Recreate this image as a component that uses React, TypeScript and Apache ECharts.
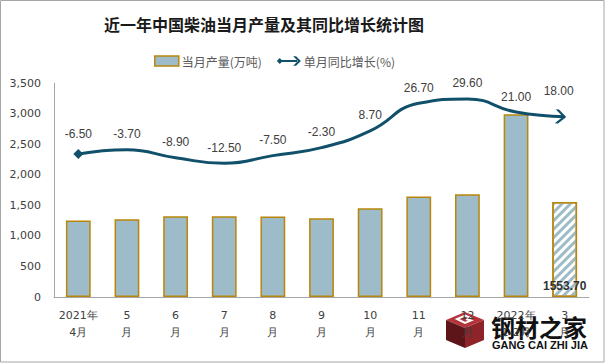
import React, { useEffect, useRef } from "react";
import * as echarts from "echarts";

const categories = ["2021年\n4月", "5\n月", "6\n月", "7\n月", "8\n月", "9\n月", "10\n月", "11\n月", "12\n月", "2022年\n1-2月", "3\n月"];
const output = [1253, 1270, 1320, 1320, 1318, 1286, 1450, 1645, 1680, 2987, 1553.7];
const growth = [-6.5, -3.7, -8.9, -12.5, -7.5, -2.3, 8.7, 26.7, 29.6, 21.0, 18.0];
const yTicks = [0, 500, 1000, 1500, 2000, 2500, 3000, 3500];

const BAR_FILL = "#9DBBC8";
const BAR_BORDER = "#B8860B";
const LINE = "#11506A";

const legendLinePath =
  "path://M0,6L3,3L6,6L3,9Z M5,5L21,5L21,7L5,7Z M17,1L20,1L25,6L20,11L17,11L22,6Z";
const arrowPath = "path://M0,0L3,0L10,6L3,12L0,12L7,6Z";

export default function App() {
  const ref = useRef<HTMLDivElement>(null);
  useEffect(() => {
    document.body.style.margin = "0";
    const chart = echarts.init(ref.current!, null, { renderer: "svg" });
    const last = output.length - 1;
    chart.setOption({
      animation: false,
      backgroundColor: "#fff",
      title: {
        text: "近一年中国柴油当月产量及其同比增长统计图",
        left: 99,
        top: 11,
        textStyle: { fontFamily: "Noto Sans CJK SC", fontWeight: "bold", fontSize: 16, color: "#1a1a1a" },
      },
      legend: {
        left: 149,
        top: 50,
        itemGap: 15,
        itemWidth: 24,
        itemHeight: 10,
        textStyle: { fontFamily: "Noto Sans CJK SC", fontSize: 12, color: "#595959", padding: [0, 0, 0, -2] },
        data: [
          { name: "当月产量(万吨)", icon: "rect", itemStyle: { color: BAR_FILL, borderColor: BAR_BORDER, borderWidth: 1.5, decal: "none" } },
          { name: "单月同比增长(%)", icon: legendLinePath, itemStyle: { color: LINE, borderWidth: 0 } },
        ],
      },
      grid: { left: 54, right: 17, top: 83, bottom: 67, containLabel: false },
      xAxis: {
        type: "category",
        data: categories,
        axisLine: { lineStyle: { color: "#A6A6A6", width: 1 } },
        axisTick: { show: false },
        axisLabel: {
          interval: 0,
          margin: 10,
          fontFamily: "DejaVu Sans",
          fontSize: 11,
          lineHeight: 17,
          color: "#404040",
        },
      },
      yAxis: [
        {
          type: "value",
          min: yTicks[0],
          max: yTicks[yTicks.length - 1],
          interval: 500,
          axisLine: { show: true, lineStyle: { color: "#A6A6A6", width: 1 } },
          axisTick: { show: false },
          splitLine: { show: false },
          axisLabel: {
            margin: 13,
            fontFamily: "DejaVu Sans",
            fontSize: 11,
            color: "#404040",
            formatter: (v: number) => v.toLocaleString("en-US"),
          },
        },
        {
          type: "value",
          min: -100,
          max: 40,
          show: false,
          splitLine: { show: false },
        },
      ],
      series: [
        {
          name: "当月产量(万吨)",
          type: "bar",
          barWidth: "51%",
          yAxisIndex: 0,
          itemStyle: { color: BAR_FILL, borderColor: BAR_BORDER, borderWidth: 1.5 },
          data: output.map((v, i) =>
            i === last
              ? {
                  value: v,
                  itemStyle: {
                    color: "#ffffff",
                    borderColor: BAR_BORDER,
                    borderWidth: 1.5,
                    decal: {
                      symbol: "rect",
                      color: BAR_FILL,
                      backgroundColor: "#ffffff",
                      dashArrayX: [1, 0],
                      dashArrayY: [2.5, 3],
                      rotation: -Math.PI / 4,
                    },
                  },
                  label: {
                    show: true,
                    position: "insideBottom",
                    distance: 5,
                    formatter: (p: any) => Number(p.value).toFixed(2),
                    fontFamily: "Liberation Sans",
                    fontSize: 12,
                    fontWeight: "bold",
                    color: "#333",
                  },
                }
              : v
          ),
        },
        {
          name: "单月同比增长(%)",
          type: "line",
          yAxisIndex: 1,
          smooth: 0.5,
          showSymbol: true,
          symbol: "circle",
          symbolSize: 1,
          lineStyle: { color: LINE, width: 3 },
          itemStyle: { color: LINE },
          label: {
            show: true,
            position: "top",
            distance: 9,
            fontFamily: "Liberation Sans",
            fontSize: 12,
            color: "#404040",
            formatter: (p: any) => Number(p.value).toFixed(2),
          },
          data: growth.map((v, i) => {
            if (i === 0) return { value: v, symbol: "diamond", symbolSize: 10 };
            if (i === last)
              return {
                value: v,
                symbol: arrowPath,
                symbolSize: [11, 14],
                symbolOffset: [-4, 0],
                symbolRotate: -4,
                label: { distance: 12, offset: [-2, 0] },
              };
            return v;
          }),
        },
      ],
      graphic: [
        {
          type: "rect",
          shape: { x: 0.5, y: 0.5, width: 603.5, height: 361.5 },
          style: { fill: "none", stroke: "#A6A6A6", lineWidth: 1 },
          silent: true,
          z: 100,
        },
        {
          type: "group",
          z: 100,
          children: [
            { type: "polygon", shape: { points: [[465, 312], [484, 320], [465, 328], [446, 320]] }, style: { fill: "#B3353B" } },
            { type: "polygon", shape: { points: [[446, 320], [465, 328], [465, 348], [446, 340]] }, style: { fill: "#5E1519" } },
            { type: "polygon", shape: { points: [[465, 328], [484, 320], [484, 340], [465, 348]] }, style: { fill: "#8E2329" } },
            { type: "polyline", shape: { points: [[471, 318], [465, 315.5], [457, 319], [465, 323], [471, 320.5], [466, 319]] }, style: { stroke: "#fff", lineWidth: 2, fill: "none" } },
            {
              type: "text",
              x: 491,
              y: 314,
              style: { text: "钢材之家", font: "bold 24px 'Noto Sans CJK SC'", fill: "#111" },
            },
            {
              type: "text",
              x: 492,
              y: 339,
              style: { text: "GANG CAI ZHI JIA", font: "bold 11px 'Liberation Sans'", fill: "#111" },
            },
          ],
        },
      ],
    });
    return () => chart.dispose();
  }, []);
  return <div ref={ref} style={{ width: 606, height: 364 }} />;
}
